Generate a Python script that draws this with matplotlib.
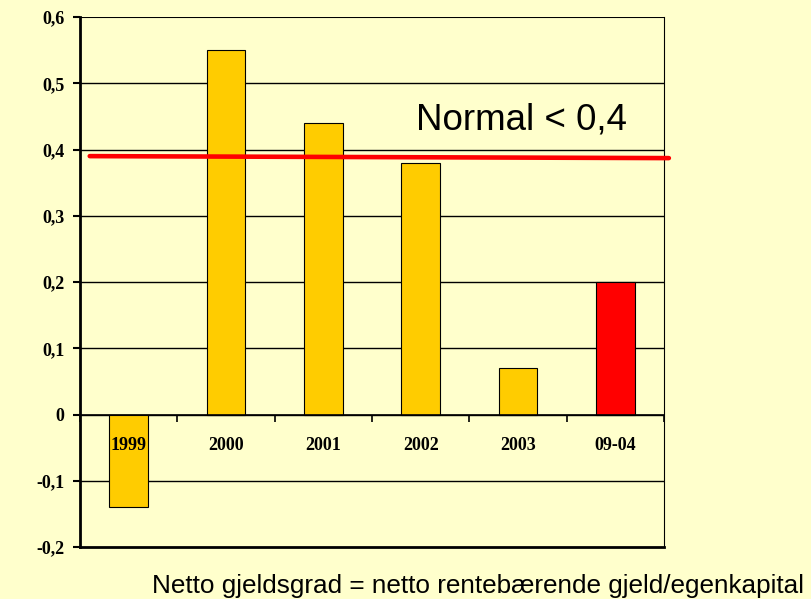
import numpy as np
import matplotlib
matplotlib.use('Agg')
import matplotlib.pyplot as plt

# data
categories = ['1999', '2000', '2001', '2002', '2003', '09-04']
values = [-0.14, 0.55, 0.44, 0.38, 0.07, 0.20]
bar_colors = ['#FFCC00', '#FFCC00', '#FFCC00', '#FFCC00', '#FFCC00', '#FF0000']
y_ticks = [-0.2, -0.1, 0, 0.1, 0.2, 0.3, 0.4, 0.5, 0.6]
y_labels = ['-0,2', '-0,1', '0', '0,1', '0,2', '0,3', '0,4', '0,5', '0,6']
norm_line_x = [-0.40, 5.55]
norm_line_y = [0.390, 0.387]

bg = '#FFFFCC'
serif = ['Liberation Serif', 'DejaVu Serif']
sans = ['Liberation Sans', 'DejaVu Sans']

fig = plt.figure(figsize=(8.11, 5.99), dpi=100, facecolor=bg)
ax = fig.add_axes([80 / 811, 1 - 547 / 599, (664 - 80) / 811, (547 - 17) / 599])
ax.set_facecolor(bg)

x = np.arange(len(categories))
ax.bar(x, values, width=0.4, color=bar_colors, edgecolor='black', linewidth=0.8, zorder=3)

ax.set_xlim(-0.5, len(categories) - 0.5)
ax.set_ylim(-0.2, 0.6)

# gridlines
for yv in y_ticks[1:-1]:
    ax.axhline(yv, color='black', linewidth=1.0, zorder=1)
ax.axhline(0.6, color='black', linewidth=1.5, zorder=2)
ax.axhline(-0.2, color='black', linewidth=2.0, zorder=4, clip_on=False)

# y axis
ax.set_yticks(y_ticks)
ax.set_yticklabels(y_labels, fontfamily=serif, fontweight='bold', fontsize=13)
ax.tick_params(axis='y', direction='out', length=5, width=1.5, pad=6)

# x axis at zero
ax.spines['bottom'].set_position(('data', 0))
ax.spines['bottom'].set_linewidth(1.2)
ax.spines['bottom'].set_zorder(5)
ax.spines['left'].set_linewidth(2.0)
ax.spines['top'].set_visible(False)
ax.spines['right'].set_linewidth(0.8)
ax.set_xticks(x)
ax.set_xticklabels(categories, fontfamily=serif, fontweight='bold', fontsize=13)
ax.set_xticks(np.arange(-0.5, len(categories)), minor=True)
ax.tick_params(axis='x', which='major', length=0, pad=16)
ax.tick_params(axis='x', which='minor', direction='out', length=5, width=1.2)
ax.xaxis.set_zorder(8)

# normal level line
ax.plot(norm_line_x, norm_line_y, color='#FF0000', linewidth=3.3, solid_capstyle='round',
        zorder=6, clip_on=False)
ax.text(2.952, 0.4305, 'Normal < 0,4', fontfamily=sans, fontsize=26.5,
        ha='left', va='baseline', zorder=7)

fig.text(478 / 811, 1 - 593 / 599, 'Netto gjeldsgrad = netto rentebærende gjeld/egenkapital',
         fontfamily=sans, fontsize=18.8, ha='center', va='baseline')

fig.savefig('out.png', dpi=100, facecolor=bg)
